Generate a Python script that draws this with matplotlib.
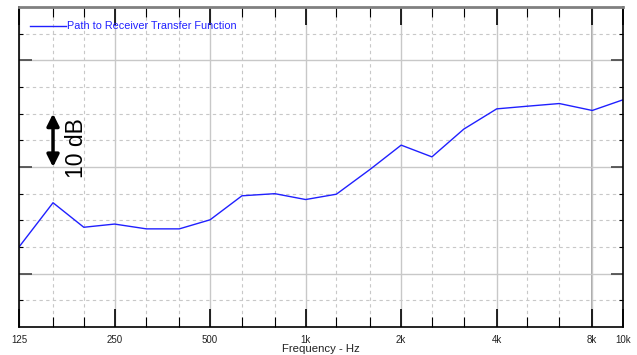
import numpy as np
import matplotlib
matplotlib.use("Agg")
import matplotlib.pyplot as plt
from matplotlib.ticker import FixedLocator, NullFormatter

# -------- Data (third-octave bands) --------
freqs = [125, 160, 200, 250, 315, 400, 500, 630, 800, 1000,
         1250, 1600, 2000, 2500, 3150, 4000, 5000, 6300, 8000, 10000]
level_db = [15.0, 23.3, 18.7, 19.3, 18.4, 18.4, 20.1, 24.6, 25.0, 23.9,
            24.9, 29.6, 34.1, 31.9, 37.1, 40.9, 41.4, 41.9, 40.6, 42.6]

octave_ticks = [125, 250, 500, 1000, 2000, 4000, 8000, 10000]
octave_labels = ["125", "250", "500", "1k", "2k", "4k", "8k", "10k"]
third_ticks = [160, 200, 315, 400, 630, 800, 1250, 1600, 2500, 3150, 5000, 6300]

y_major = [10, 30, 50]
y_minor = [5, 15, 20, 25, 35, 40, 45, 55]

# -------- Figure --------
fig = plt.figure(figsize=(6.37, 3.55), dpi=100)
ax = fig.add_axes([19 / 637, 1 - 327 / 355, 604 / 637, 320 / 355])

ax.plot(freqs, level_db, color="#2020ff", linewidth=1.0,
        label="Path to Receiver Transfer Function")

ax.set_xscale("log")
ax.set_xlim(125, 10000)
ax.set_ylim(0, 60)

ax.xaxis.set_major_locator(FixedLocator(octave_ticks))
ax.set_xticklabels(octave_labels)
ax.xaxis.set_minor_locator(FixedLocator(third_ticks))
ax.xaxis.set_minor_formatter(NullFormatter())
ax.yaxis.set_major_locator(FixedLocator(y_major))
ax.yaxis.set_minor_locator(FixedLocator(y_minor))
ax.yaxis.set_major_formatter(NullFormatter())

# grid: solid at octaves / 20 dB, dashed at third-octaves / 5 dB
ax.grid(True, which="major", color="#c8c8c8", linewidth=1.0, linestyle="-")
ax.grid(True, which="minor", color="#c8c8c8", linewidth=0.8, linestyle=(0, (3, 3)))
ax.axvline(8000, color="#a8a8a8", linewidth=1.4, zorder=0.5)
ax.set_axisbelow(True)

ax.tick_params(axis="x", which="major", direction="in", top=True,
               length=13, width=1.2, color="black", labelsize=7, pad=6,
               labelcolor="#222222")
ax.tick_params(axis="x", which="minor", direction="in", top=True,
               length=7, width=0.8, color="black")
ax.tick_params(axis="y", which="major", direction="in", right=True,
               length=9, width=1.2, color="#444444")
ax.tick_params(axis="y", which="minor", direction="in", right=True,
               length=3, width=0.8, color="black")
for lbl in ax.get_xticklabels():
    lbl.set_fontfamily("Liberation Sans")

for side in ["left", "bottom", "right"]:
    ax.spines[side].set_color("black")
    ax.spines[side].set_linewidth(1.2)
ax.spines["top"].set_color("#808080")
ax.spines["top"].set_linewidth(2.0)

ax.set_xlabel("Frequency - Hz", fontsize=8.2, family="Liberation Sans",
              labelpad=-1, color="#222222")

# 10 dB scale arrow
ax.annotate("", xy=(160, 30), xytext=(160, 40),
            arrowprops=dict(arrowstyle="<|-|>", color="black", lw=2.5,
                            mutation_scale=18, shrinkA=0, shrinkB=0))
ax.text(190, 33.6, "10 dB", rotation=90, ha="center", va="center",
        fontsize=16.5, family="Liberation Sans")

leg = ax.legend(loc="upper left", bbox_to_anchor=(0.013, 0.965),
                frameon=False, handlelength=3.3,
                handletextpad=0.1, borderaxespad=0, borderpad=0.3,
                prop={"family": "Liberation Sans", "size": 7.8})
for t in leg.get_texts():
    t.set_color("#2020ff")

fig.savefig("out.png", dpi=100)
